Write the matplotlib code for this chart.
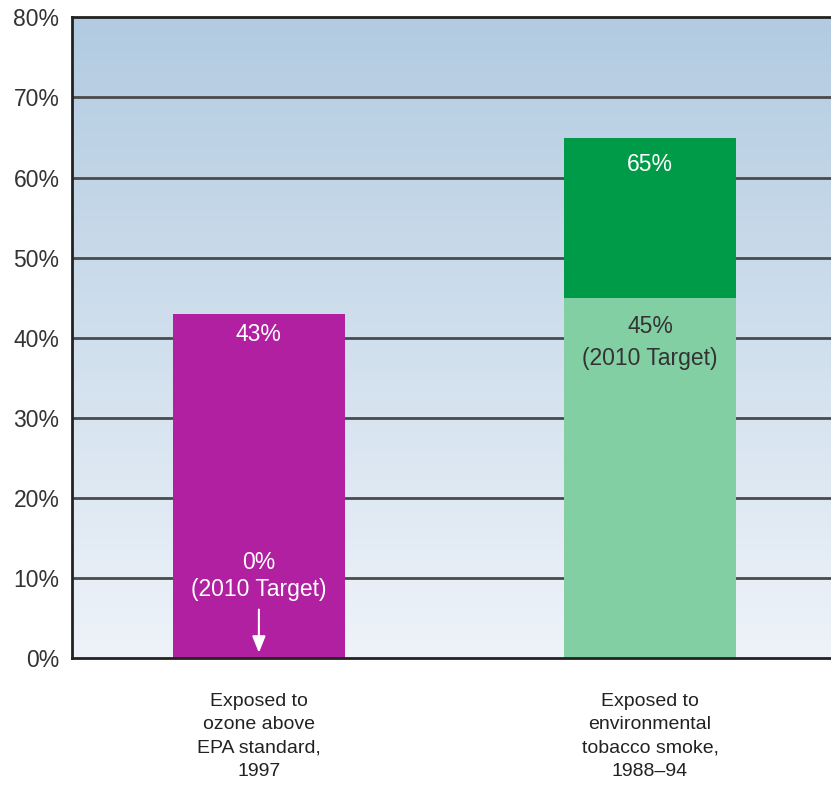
import matplotlib.pyplot as plt
import numpy as np
from matplotlib.colors import LinearSegmentedColormap

plt.rcParams["font.family"] = ["Liberation Sans", "DejaVu Sans"]

categories = [
    "Exposed to\nozone above\nEPA standard,\n1997",
    "Exposed to\nenvironmental\ntobacco smoke,\n1988\u201394",
]
baseline = [43, 65]
target = [0, 45]
yticks = [0, 10, 20, 30, 40, 50, 60, 70, 80]

purple = "#b020a0"
dark_green = "#009b48"
light_green = "#82cfa4"
grid_color = "#4a4a4a"
text_dark = "#333333"

fig = plt.figure(figsize=(8.31, 7.90), dpi=100)
ax = fig.add_axes([0.0866, 0.167, 0.9134, 0.811])

xmin, xmax = -0.478, 1.463
ax.set_xlim(xmin, xmax)
ax.set_ylim(0, 80)

# vertical gradient behind the plot
grad = np.linspace(0, 1, 256).reshape(-1, 1)
cmap = LinearSegmentedColormap.from_list("bg", ["#eef3f9", "#b2cbe1"])
ax.imshow(grad, aspect="auto", cmap=cmap, origin="lower",
          extent=[xmin, xmax, 0, 80], zorder=0)

for y in yticks[1:-1]:
    ax.axhline(y, color=grid_color, lw=2, zorder=1)

width = 0.44
# ozone: single bar, target of 0%
ax.bar(0, baseline[0], width=width, color=purple, zorder=2)
# tobacco smoke: target portion below, remainder above
ax.bar(1, target[1], width=width, color=light_green, zorder=2)
ax.bar(1, baseline[1] - target[1], bottom=target[1], width=width,
       color=dark_green, zorder=2)

fs = 16.5
ax.text(0, baseline[0] - 2.6, f"{baseline[0]}%", ha="center", va="center",
        color="white", fontsize=fs, zorder=3)
ax.text(0, 11.9, f"{target[0]}%", ha="center", va="center",
        color="white", fontsize=fs, zorder=3)
ax.text(0, 8.5, "(2010 Target)", ha="center", va="center",
        color="white", fontsize=fs, zorder=3)
ax.annotate("", xy=(0, target[0] + 0.3), xytext=(0, 6.4),
            arrowprops=dict(arrowstyle="-|>,head_width=0.4,head_length=1.0",
                            color="white", lw=1.5),
            zorder=3)

ax.text(1, baseline[1] - 3.4, f"{baseline[1]}%", ha="center", va="center",
        color="white", fontsize=fs, zorder=3)
ax.text(1, target[1] - 3.6, f"{target[1]}%", ha="center", va="center",
        color=text_dark, fontsize=fs, zorder=3)
ax.text(1, target[1] - 7.6, "(2010 Target)", ha="center", va="center",
        color=text_dark, fontsize=fs, zorder=3)

ax.set_yticks(yticks)
ax.set_yticklabels([f"{v}%" for v in yticks], fontsize=16.5, color=text_dark)
ax.tick_params(axis="y", length=0, pad=9)
ax.set_xticks([0, 1])
ax.set_xticklabels(categories, fontsize=14, color="#222222", linespacing=1.5)
ax.tick_params(axis="x", length=0, pad=25)

for side in ["left", "top", "bottom"]:
    ax.spines[side].set_color("#222222")
    ax.spines[side].set_linewidth(2)
    ax.spines[side].set_zorder(4)
ax.spines["right"].set_visible(False)

fig.savefig("out.png", dpi=100)
